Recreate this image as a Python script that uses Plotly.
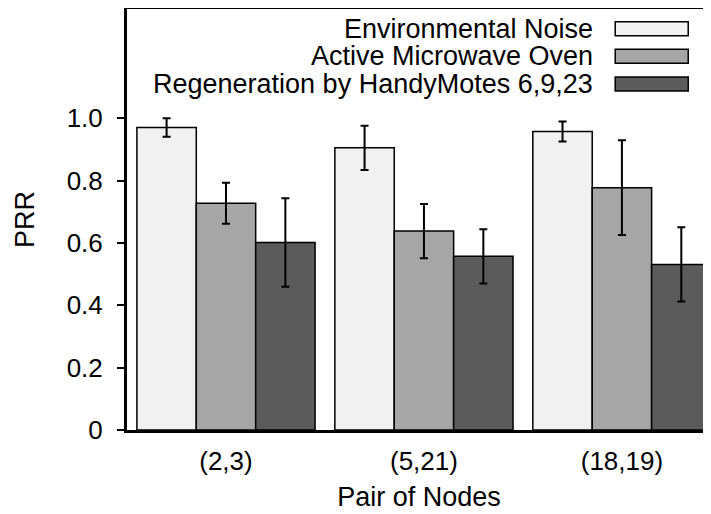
import plotly.graph_objects as go

# data
pairs = ["(2,3)", "(5,21)", "(18,19)"]
series_names = ["Environmental Noise", "Active Microwave Oven", "Regeneration by HandyMotes 6,9,23"]
env_noise = [0.970, 0.905, 0.957]
env_noise_err = [0.030, 0.071, 0.032]
microwave = [0.727, 0.638, 0.777]
microwave_err = [0.066, 0.087, 0.152]
regen = [0.601, 0.557, 0.531]
regen_err = [0.142, 0.087, 0.119]
colors = ["#f1f1f1", "#a6a6a6", "#5b5b5b"]

y_ticks = [0, 0.2, 0.4, 0.6, 0.8, 1.0]
y_tick_text = ["0", "0.2", "0.4", "0.6", "0.8", "1.0"]

FONT = "Liberation Sans, Arial, Helvetica, sans-serif"

fig = go.Figure()
values = [env_noise, microwave, regen]
errors = [env_noise_err, microwave_err, regen_err]
for name, vals, errs, col in zip(series_names, values, errors, colors):
    fig.add_trace(go.Bar(
        x=list(range(len(pairs))),
        y=vals,
        name=name,
        marker=dict(color=col, line=dict(color="black", width=1.5)),
        error_y=dict(type="data", array=errs, color="black", thickness=2, width=4),
        showlegend=False,
    ))

# custom legend: right-aligned text with the swatch on its right
row_y = [0.953, 0.888, 0.822]
for name, col, yy in zip(series_names, colors, row_y):
    fig.add_annotation(
        x=0.801, y=yy, xref="paper", yref="paper",
        text=name, showarrow=False, xanchor="right", yanchor="middle",
        font=dict(family=FONT, size=27, color="black"),
    )
    fig.add_shape(
        type="rect", xref="paper", yref="paper",
        x0=0.836, x1=0.961, y0=yy - 0.0166, y1=yy + 0.0166,
        fillcolor=col, line=dict(color="black", width=1.5),
    )

# the page body adds an 8px offset, so the figure is 8px smaller each way
fig.update_layout(
    width=703, height=506,
    margin=dict(l=119, r=0, t=1, b=84),
    paper_bgcolor="white", plot_bgcolor="white",
    barmode="group", bargap=0.1, bargroupgap=0,
    font=dict(family=FONT, size=26, color="black"),
    xaxis=dict(
        range=[-0.5, 2.45],
        tickvals=list(range(len(pairs))), ticktext=pairs,
        showline=True, linecolor="black", linewidth=3, mirror=True,
        showgrid=False, zeroline=False, ticks="",
        automargin=False,
        ticklabelstandoff=6,
        title=dict(text="Pair of Nodes", standoff=12, font=dict(size=27)),
        tickfont=dict(size=26),
    ),
    yaxis=dict(
        range=[0, 1.35],
        tickvals=y_ticks, ticktext=y_tick_text,
        showline=True, linecolor="black", linewidth=3, mirror=False,
        showgrid=False, zeroline=False,
        ticks="outside", ticklen=7, tickwidth=2, tickcolor="black",
        automargin=False,
        ticklabelstandoff=9,
        title=dict(text="PRR", standoff=25, font=dict(size=27)),
        tickfont=dict(size=26),
    ),
)

fig.write_html("out.html")
